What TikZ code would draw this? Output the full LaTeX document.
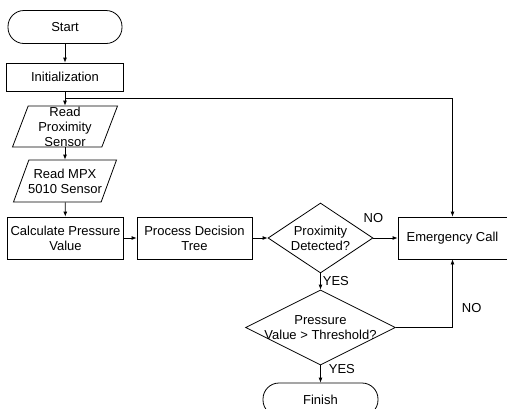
\documentclass[tikz,border=0pt]{standalone}
\usepackage{fontspec}
\setmainfont{Liberation Sans}
\usetikzlibrary{arrows.meta,shapes.geometric,positioning}
\tikzset{
  termbox/.style={draw, rounded corners=16pt, minimum width=114pt,
    minimum height=33pt, inner sep=1pt},
  procbox/.style={draw, rectangle, minimum height=42pt, align=center, inner sep=1pt},
  iobox/.style={draw, trapezium, trapezium left angle=78, trapezium right angle=102,
    trapezium stretches=true, minimum width=105pt, minimum height=41pt, inner sep=1pt},
  decbox/.style={draw, diamond, inner sep=1pt},
  intext/.style={align=center, inner sep=0pt},
  flow/.style={-{Latex[length=5pt,width=4pt]}, line width=0.8pt},
  ans/.style={inner sep=2pt}
}
\begin{document}
\begin{tikzpicture}[x=1pt, y=-1pt, line width=0.8pt,
    font=\fontsize{13pt}{15pt}\selectfont]
    \useasboundingbox (0,0) rectangle (507,408);

    \node[termbox] (start) at (65,27) {Start};
    \node[procbox, minimum width=117pt, minimum height=28pt] (init) at (65,77)
      {Initialization};
    \node[iobox, label={[intext]center:Read\\Proximity\\Sensor}] (prox) at (65,126.5) {};
    \node[iobox, minimum width=103pt, minimum height=42pt,
      label={[intext]center:Read MPX\\5010 Sensor}] (mpx) at (65,181) {};
    \node[procbox, minimum width=116pt] (calc) at (65.5,238)
      {Calculate Pressure\\Value};
    \node[procbox, minimum width=115pt] (proc) at (194.5,238)
      {Process Decision\\Tree};
    \node[decbox, minimum width=105pt, minimum height=70pt,
      label={[intext]center:Proximity\\Detected?}] (det) at (320.5,238) {};
    \node[procbox, minimum width=109pt] (emg) at (452.5,238) {Emergency Call};
    \node[decbox, minimum width=150pt, minimum height=75pt,
      label={[intext]center:Pressure\\Value > Threshold?}] (pres) at (320.5,327.5) {};
    \node[termbox, minimum width=115pt] (finish) at (320.5,399.5) {Finish};

    \coordinate (split) at (65,98);

    \draw[flow] (start) -- (init);
    \draw[flow] (init) -- (prox);
    \draw[flow] (split) -| (emg.north);
    \draw[flow] (prox) -- (mpx);
    \draw[flow] (mpx) -- (calc);
    \draw[flow] (calc) -- (proc);
    \draw[flow] (proc) -- (det);
    \draw[flow] (det) --
      node[ans, pos=0, above=13pt] {NO} (emg);
    \draw[flow] (det) --
      node[ans, pos=.5, right] {YES} (pres);
    \draw[flow] (pres.east) -|
      node[ans, pos=.64, right, xshift=7pt] {NO} (emg.south);
    \draw[flow] (pres) --
      node[ans, pos=.2, right, xshift=6pt] {YES} (finish);
  \end{tikzpicture}
\end{document}
